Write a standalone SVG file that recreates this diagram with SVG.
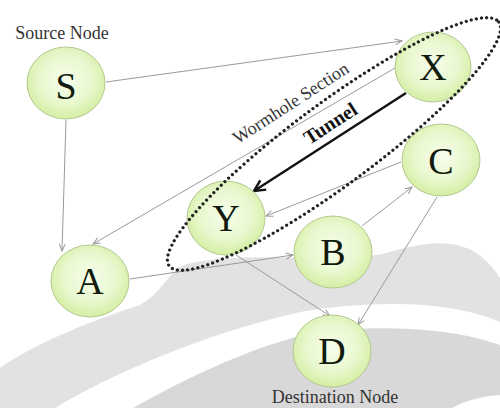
<svg xmlns="http://www.w3.org/2000/svg" width="500" height="408" viewBox="0 0 500 408">
  <defs>
    <radialGradient id="nodeFill" cx="50%" cy="45%" r="55%">
      <stop offset="0" stop-color="#f6fdec"/>
      <stop offset="0.6" stop-color="#e9f8cf"/>
      <stop offset="1" stop-color="#d4eea4"/>
    </radialGradient>
    <marker id="arrowThin" markerUnits="userSpaceOnUse" markerWidth="10" markerHeight="10" refX="8" refY="4" orient="auto">
      <path d="M1,1 L8,4 L1,7" fill="none" stroke="#999" stroke-width="1"/>
    </marker>
    <marker id="arrowBold" markerUnits="userSpaceOnUse" markerWidth="16" markerHeight="16" refX="13" refY="7" orient="auto">
      <path d="M2,1.5 L13,7 L2,12.5" fill="none" stroke="#111" stroke-width="2.4" stroke-linejoin="miter"/>
    </marker>
  </defs>
  <style>
    .node ellipse { fill: url(#nodeFill); stroke: #b3c98f; stroke-width: 1; }
    .node text { font-family: "Liberation Serif", "Times New Roman", serif; font-size: 38px; fill: #111a0c; text-anchor: middle; }
    .edge { fill: none; stroke: #9a9a9a; stroke-width: 1; marker-end: url(#arrowThin); }
    .tunnel { fill: none; stroke: #111; stroke-width: 2.4; marker-end: url(#arrowBold); }
    .caption { font-family: "Liberation Serif", "Times New Roman", serif; font-size: 18px; fill: #333; }
    .wormhole { fill: none; stroke: #222; stroke-width: 3.2; stroke-linecap: round; stroke-dasharray: 0 5.2; }
  </style>

  <!-- background swoosh -->
  <g id="background">
    <rect x="0" y="0" width="500" height="408" fill="#ffffff"/>
    <path d="M0,368 C40,340 100,318 140,305 C158,295 165,280 178,268 C195,258 250,256 300,258 C340,258 370,258 390,252 C415,245 440,240 460,246 C478,250 492,265 500,278 L500,408 L0,408 Z" fill="#e2e2e2"/>
    <path d="M133,408 C200,370 280,335 333,330 C400,325 460,330 500,345 L500,408 Z" fill="#d8d8d8"/>
    <path d="M55,408 C110,375 200,335 300,312 C370,300 450,300 500,322 L500,345 C460,330 400,325 333,330 C280,335 200,370 133,408 Z" fill="#ffffff"/>
    <path d="M452,408 C466,400 484,396 500,395 L500,408 Z" fill="#ffffff"/>
  </g>

  <!-- connectors -->
  <g id="connectors">
    <line class="edge" x1="106" y1="82" x2="402" y2="41"/>
    <line class="edge" x1="66" y1="120" x2="62" y2="251"/>
    <line class="edge" x1="395" y1="68" x2="93" y2="244"/>
    <line class="edge" x1="401" y1="162" x2="266" y2="216"/>
    <line class="edge" x1="362" y1="226" x2="412" y2="187"/>
    <line class="edge" x1="130" y1="279" x2="293" y2="255"/>
    <line class="edge" x1="236" y1="255" x2="330" y2="316"/>
    <line class="edge" x1="437" y1="197" x2="358" y2="325"/>
    <line class="tunnel" x1="406" y1="93" x2="254" y2="191"/>
  </g>

  <!-- nodes -->
  <g id="node-S" class="node"><ellipse cx="66" cy="83" rx="39" ry="36"/><text x="66" y="99">S</text></g>
  <g id="node-X" class="node"><ellipse cx="433" cy="67" rx="38" ry="35"/><text x="433" y="80">X</text></g>
  <g id="node-C" class="node"><ellipse cx="441" cy="160" rx="39" ry="36"/><text x="441" y="174">C</text></g>
  <g id="node-Y" class="node"><ellipse cx="226" cy="218" rx="39" ry="37"/><text x="226" y="231">Y</text></g>
  <g id="node-B" class="node"><ellipse cx="333" cy="252" rx="39" ry="36"/><text x="333" y="265">B</text></g>
  <g id="node-A" class="node"><ellipse cx="90" cy="281" rx="39" ry="36"/><text x="90" y="294">A</text></g>
  <g id="node-D" class="node"><ellipse cx="332" cy="351" rx="39" ry="36"/><text x="332" y="364">D</text></g>

  <!-- wormhole region around X and Y -->
  <g id="wormhole">
    <ellipse class="wormhole" cx="334" cy="144" rx="205" ry="41" transform="rotate(-36.5 334 144)"/>
    <text class="caption" x="294" y="108" text-anchor="middle" fill="#555" transform="rotate(-33 294 108)">Wormhole Section</text>
    <text x="334" y="129" text-anchor="middle" transform="rotate(-33 334 129)" font-family="'Liberation Serif', 'Times New Roman', serif" font-size="20" font-weight="bold" fill="#111">Tunnel</text>
  </g>

  <!-- labels -->
  <text class="caption" x="62" y="39" text-anchor="middle">Source Node</text>
  <text class="caption" x="335" y="403" text-anchor="middle">Destination Node</text>
</svg>
